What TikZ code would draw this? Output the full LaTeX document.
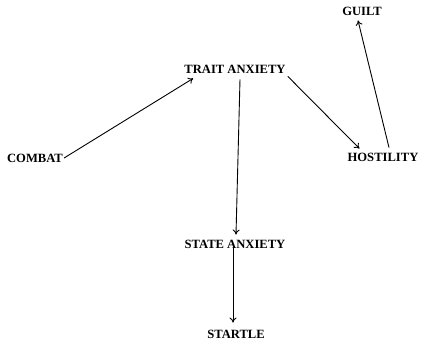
\documentclass[tikz,border=0pt]{standalone}
\usepackage{fontspec}
\setmainfont{Liberation Serif}
\usetikzlibrary{calc,arrows.meta}
\begin{document}
\begin{tikzpicture}[x=1pt,y=-1pt,
  lbl/.style={font=\bfseries\fontsize{12.6}{14}\selectfont, inner sep=1pt},
  link/.style={line width=0.9pt, -{To[length=5pt,width=7pt]}}]
\useasboundingbox (0,0) rectangle (423,340);
\node[lbl] (trait)   at (235,69)  {TRAIT ANXIETY};
\node[lbl] (combat)  at (35,158)  {COMBAT};
\node[lbl] (guilt)   at (362,11)  {GUILT};
\node[lbl] (host)    at (383,157) {HOSTILITY};
\node[lbl] (state)   at (235,244) {STATE ANXIETY};
\node[lbl] (startle) at (236,334) {STARTLE};
% causal paths
\draw[link] (combat.east) -- ($(trait.south west)+(10,4)$);
\draw[link] ($(trait.south east)+(1,2)$) -- ($(host.north west)+(13,-3)$);
\draw[link] ($(trait.south)+(5,5)$) -- ($(state.north)+(1,-4)$);
\draw[link] ($(state.center)+(-2,2)$) -- ($(startle.north)+(-3,-6)$);
\draw[link] ($(host.north)+(6,-4)$) -- ($(guilt.south)+(-4,4)$);
\end{tikzpicture}
\end{document}
